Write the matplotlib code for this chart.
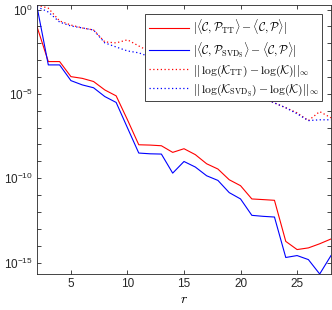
import numpy as np
import matplotlib
matplotlib.use("Agg")
import matplotlib.pyplot as plt
from matplotlib.ticker import FixedLocator, NullLocator

plt.rcParams['font.family'] = ['Liberation Sans', 'DejaVu Sans']
plt.rcParams['mathtext.fontset'] = 'cm'

r = list(range(2, 29))

err_tt = [9.6e-2, 8.2e-4, 8.2e-4, 1.05e-4, 8.3e-5, 5.4e-5, 1.7e-5, 7.6e-6, 2.9e-7,
          9.6e-9, 9.2e-9, 8.4e-9, 3.4e-9, 5.6e-9, 2.5e-9, 7.2e-10, 3.5e-10, 8.1e-11,
          3.6e-11, 5.9e-12, 5.4e-12, 4.9e-12, 1.8e-14, 5.9e-15, 7.4e-15, 1.3e-14, 2.5e-14]

err_svd = [1.47, 5.2e-4, 5.2e-4, 6.1e-5, 3.4e-5, 2.3e-5, 6.9e-6, 3.1e-6, 9.7e-8,
           3.1e-9, 2.8e-9, 2.7e-9, 2.0e-10, 9.8e-10, 4.6e-10, 1.4e-10, 7.4e-11, 1.4e-11,
           5.9e-12, 6.3e-13, 5.5e-13, 5.0e-13, 2.0e-15, 2.6e-15, 1.5e-15, 2.1e-16, 2.6e-15]

log_tt = [1.85, 1.2, 0.21, 0.12, 0.081, 0.061, 0.012, 0.0105, 0.016,
          0.0069, 0.0031, 0.00135, 6.0e-4, 2.6e-4, 1.0e-4, 4.4e-5, 2.2e-5, 1.3e-5,
          1.15e-5, 2.2e-5, 5.8e-6, 2.9e-6, 1.5e-6, 7.5e-7, 2.6e-7, 8.9e-7, 3.8e-7]

log_svd = [1.47, 0.71, 0.18, 0.105, 0.081, 0.061, 0.0105, 0.006, 0.0035,
           0.0027, 0.00155, 9.0e-4, 4.6e-4, 2.3e-4, 1.0e-4, 4.4e-5, 2.2e-5, 1.15e-5,
           1.15e-5, 1.15e-5, 5.8e-6, 2.9e-6, 1.5e-6, 6.6e-7, 2.6e-7, 2.9e-7, 2.9e-7]

labels = [r'$|\langle\mathcal{C},\mathcal{P}_{\mathrm{TT}}\rangle-\langle\mathcal{C},\mathcal{P}\rangle|$',
          r'$|\langle\mathcal{C},\mathcal{P}_{\mathrm{SVD}_\mathrm{S}}\rangle-\langle\mathcal{C},\mathcal{P}\rangle|$',
          r'$||\,\log(\mathcal{K}_{\mathrm{TT}})-\log(\mathcal{K})||_\infty$',
          r'$||\,\log(\mathcal{K}_{\mathrm{SVD}_\mathrm{S}})-\log(\mathcal{K})||_\infty$']

xticks = [5, 10, 15, 20, 25]
yexp = list(range(-15, 1))

fig = plt.figure(figsize=(3.32, 3.10), dpi=100)
ax = fig.add_axes([37/332, 1 - 274/310, (331 - 37)/332, (274 - 5)/310])

lw = 0.8
dot = (0, (1.0, 2.0))
ax.plot(r, err_tt, color='#ff0000', lw=lw, label=labels[0])
ax.plot(r, err_svd, color='#0000ff', lw=lw, label=labels[1])
ax.plot(r, log_tt, color='#ff0000', lw=0.9, ls=dot, label=labels[2])
ax.plot(r, log_svd, color='#0000ff', lw=0.9, ls=dot, label=labels[3])

ax.set_yscale('log')
allv = err_tt + err_svd + log_tt + log_svd
ax.set_xlim(min(r), max(r))
ax.set_ylim(min(allv), max(allv))

ax.xaxis.set_major_locator(FixedLocator(xticks))
ax.set_xticklabels([str(t) for t in xticks])
ax.yaxis.set_major_locator(FixedLocator([10.0 ** e for e in yexp]))
ax.yaxis.set_minor_locator(NullLocator())
ax.set_yticklabels([r'$\mathregular{10^{%d}}$' % e if e % 5 == 0 else '' for e in yexp])

ax.tick_params(which='both', direction='in', top=True, right=True, length=3,
               width=0.6, labelsize=8.5, colors='#262626', pad=3)
for s in ax.spines.values():
    s.set_linewidth(0.6)
    s.set_color('#262626')

ax.set_xlabel(r'$r$', fontsize=10, labelpad=1)

leg = ax.legend(loc='upper right', bbox_to_anchor=((322 - 37)/294, 1 - (14 - 5)/269),
                bbox_transform=ax.transAxes, fontsize=8.4, frameon=True, fancybox=False,
                edgecolor='#262626', framealpha=1, handlelength=3.4, handletextpad=0.35,
                borderpad=0.3, labelspacing=0.28, borderaxespad=0.0)
leg.get_frame().set_linewidth(0.6)

fig.savefig('out.png', dpi=100)
